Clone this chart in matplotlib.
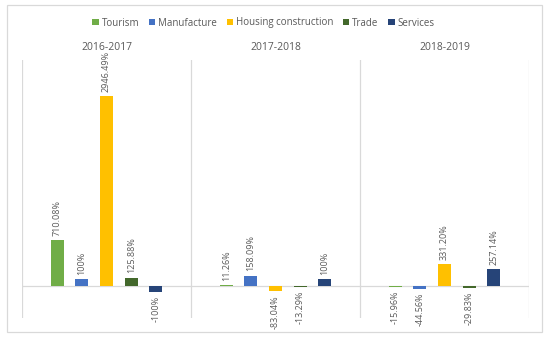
import matplotlib.pyplot as plt
import numpy as np
from matplotlib.patches import Rectangle, Patch

plt.rcParams['font.family'] = ['Open Sans', 'DejaVu Sans']

periods = ['2016-2017', '2017-2018', '2018-2019']
sectors = ['Tourism', 'Manufacture', 'Housing construction', 'Trade', 'Services']
colors = ['#70AD47', '#4472C4', '#FFC000', '#43682B', '#264478']

tourism = [710.08, 11.26, -15.96]
manufacture = [100, 158.09, -44.56]
housing = [2946.49, -83.04, 331.20]
trade = [125.88, -13.29, -29.83]
services = [-100, 100, 257.14]
labels = [
    ['710.08%', '11.26%', '-15.96%'],
    ['100%', '158.09%', '-44.56%'],
    ['2946.49%', '-83.04%', '331.20%'],
    ['125.88%', '-13.29%', '-29.83%'],
    ['-100%', '100%', '257.14%'],
]
series = [tourism, manufacture, housing, trade, services]

fig = plt.figure(figsize=(5.5, 3.39), dpi=100)
ax = fig.add_axes([22 / 550, 1 - 318 / 339, 507 / 550, 258 / 339])

x = np.arange(len(periods))
step = 0.146
width = 0.078
grey = '#595959'

for i, (vals, col) in enumerate(zip(series, colors)):
    xs = x + (i - 2) * step
    ax.bar(xs, vals, width, color=col, zorder=3)
    for xi, v, lab in zip(xs, vals, labels[i]):
        if v >= 0:
            ax.annotate(lab, (xi, v), xytext=(0, 3), textcoords='offset points',
                        rotation=90, ha='center', va='bottom', fontsize=6.5, color=grey)
        else:
            ax.annotate(lab, (xi, v), xytext=(0, -3), textcoords='offset points',
                        rotation=90, ha='center', va='top', fontsize=6.5, color=grey)

ax.set_xlim(-0.5, 2.5)
ax.set_ylim(-500, 3500)
ax.axhline(0, color='#D9D9D9', lw=0.9, zorder=2)
for b in [-0.5, 0.5, 1.5, 2.5]:
    ax.axvline(b, color='#D9D9D9', lw=0.9, zorder=1)
for s in ax.spines.values():
    s.set_visible(False)
ax.set_xticks([])
ax.set_yticks([])

for xi, p in zip(x, periods):
    fig.text((22 + 169 * (xi + 0.5)) / 550, 1 - 47 / 339, p, ha='center', va='center',
             fontsize=7.5, color=grey)

handles = [Patch(facecolor=c, label=s) for c, s in zip(colors, sectors)]
fig.legend(handles=handles, loc='center', bbox_to_anchor=(0.479, 1 - 23 / 339), ncol=5,
           frameon=False, fontsize=7, handlelength=0.65, handleheight=0.65,
           handletextpad=0.3, columnspacing=1.0, labelcolor=grey)

fig.add_artist(Rectangle((7 / 550, 1 - 332 / 339), 535 / 550, 327 / 339,
                         transform=fig.transFigure, fill=False, edgecolor='#D9D9D9', lw=0.9))

fig.savefig('out.png', dpi=100)
